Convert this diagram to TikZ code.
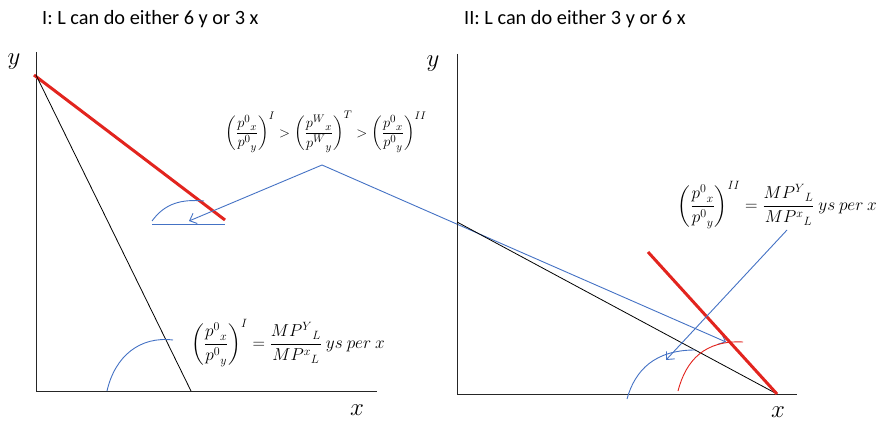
\documentclass[tikz,border=0pt]{standalone}
\usepackage{amsmath}
\usepackage[no-math]{fontspec}
\setmainfont{Carlito}
\usetikzlibrary{arrows.meta}
\definecolor{oblue}{RGB}{68,114,196}
\definecolor{ored}{RGB}{226,36,30}
\begin{document}
\begin{tikzpicture}[x=1pt,y=-1pt,
  axis/.style={line width=1pt, black!85},
  thinblack/.style={line width=0.8pt, black},
  budget/.style={line width=3pt, ored},
  bl/.style={line width=0.9pt, oblue},
  redarc/.style={line width=0.9pt, ored},
  arr/.style={bl, -{Straight Barb[length=6pt,width=11pt]}},
  title/.style={font=\fontsize{20.3}{24}\selectfont, anchor=west, inner sep=0pt},
  lab/.style={font=\fontsize{23}{27}\selectfont, inner sep=0pt},
  eq/.style={font=\fontsize{15.6}{19}\selectfont, inner sep=0pt},
  eqb/.style={font=\fontsize{17.5}{21}\selectfont, inner sep=0pt},
  eqc/.style={font=\fontsize{16.6}{20}\selectfont, inner sep=0pt, anchor=east}]
\useasboundingbox (0,0) rectangle (880,422);
% titles
\node[title] (t1) at (42,19) {I: L can do either 6 y or 3 x};
\node[title] (t2) at (464,19) {II: L can do either 3 y or 6 x};
% panel I
\coordinate (o1) at (36,391);
\coordinate (ytop1) at (36,52);
\coordinate (xend1) at (377,391);
\draw[axis] (ytop1) -- (o1) -- (xend1);
\node[lab] (y1) at (14,62) {$y$};
\node[lab] (x1) at (357,410) {$x$};
\coordinate (A) at (34,75);
\coordinate (B) at (225,220);
\draw[budget] (A) -- (B);
\coordinate (A2) at (36,75);
\coordinate (C) at (191,391);
\draw[thinblack] (A2) -- (C);
\coordinate (h1) at (152,224);
\coordinate (h2) at (225,224);
\draw[bl] (h1) -- (h2);
\draw[bl] (152,221) .. controls (165,203) and (182,199) .. (204,201);
\draw[bl] (107,391) .. controls (115,356) and (140,336) .. (173,340);
% arrows from apex
\coordinate (apex) at (322,165);
\coordinate (tipL) at (189,221);
\coordinate (tipR) at (726,342);
\draw[arr] (apex) -- (tipL);
\draw[arr] (apex) -- (tipR);
% equations
\node[eq] (eqTop) at (326,132) {$\left(\dfrac{{p^0}_x}{{p^0}_y}\right)^{I} > \left(\dfrac{{p^W}_x}{{p^W}_y}\right)^{T} > \left(\dfrac{{p^0}_x}{{p^0}_y}\right)^{II}$};
\node[eqb] (eqL) at (288,343) {$\left(\dfrac{{p^0}_x}{{p^0}_y}\right)^{I} = \dfrac{{MP^Y}_L}{{MP^x}_L}\ ys\ per\ x$};
\node[eqc] (eqR) at (877,205) {$\left(\dfrac{{p^0}_x}{{p^0}_y}\right)^{II} = \dfrac{{MP^Y}_L}{{MP^x}_L}\ ys\ per\ x$};
% panel II
\coordinate (o2) at (457,394);
\coordinate (ytop2) at (457,54);
\coordinate (xend2) at (797,394);
\draw[axis] (ytop2) -- (o2) -- (xend2);
\node[lab] (y2) at (433,64) {$y$};
\node[lab] (x2) at (778,412) {$x$};
\coordinate (D) at (457,222);
\coordinate (E) at (777,394);
\draw[thinblack] (D) -- (E);
\coordinate (F) at (648,252);
\draw[budget] (F) -- (E);
\coordinate (G) at (787,230);
\coordinate (tipB) at (666,360);
\draw[arr] (G) -- (tipB);
\draw[redarc] (678,391) .. controls (686,360) and (705,340) .. (743,342);
\draw[bl] (627,399) .. controls (635,370) and (655,350) .. (695,350);
\end{tikzpicture}
\end{document}
